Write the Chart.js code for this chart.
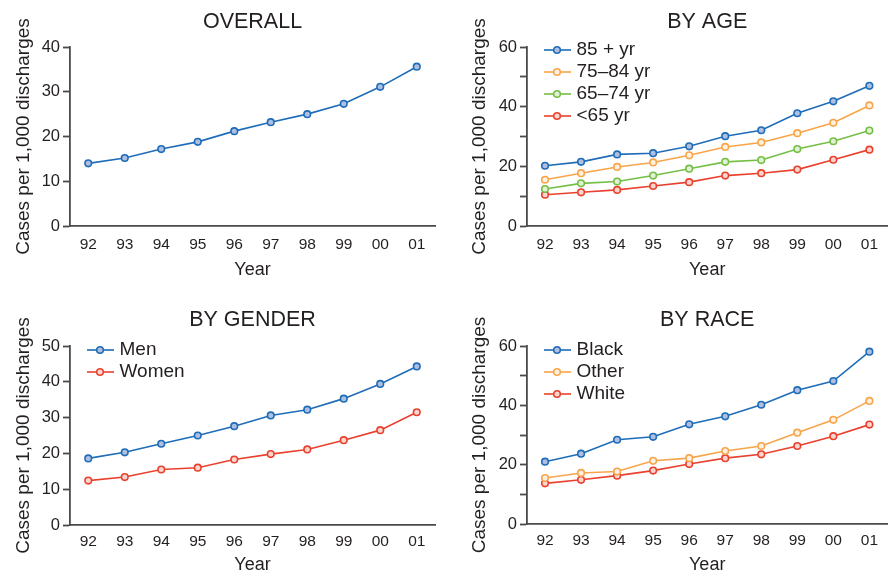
<!DOCTYPE html>
<html>
<head>
<meta charset="utf-8">
<script src="https://cdn.jsdelivr.net/npm/chart.js@4.4.1/dist/chart.umd.min.js"></script>
<style>
  body { margin: 0; background: #fff; }
  .panel { position: absolute; }
</style>
</head>
<body>
<div class="panel" style="left:0;top:0"><canvas id="overall" width="446" height="290"></canvas></div>
<div class="panel" style="left:446px;top:0"><canvas id="byAge" width="447" height="290"></canvas></div>
<div class="panel" style="left:0;top:290px"><canvas id="byGender" width="446" height="286"></canvas></div>
<div class="panel" style="left:446px;top:290px"><canvas id="byRace" width="447" height="286"></canvas></div>
<script>
const years = ['92', '93', '94', '95', '96', '97', '98', '99', '00', '01'];

const overall = [14.0, 15.2, 17.2, 18.8, 21.2, 23.2, 25.0, 27.3, 31.1, 35.6];

const age85plus = [20.2, 21.5, 24.0, 24.4, 26.7, 30.1, 32.1, 37.8, 41.8, 47.0];
const age75to84 = [15.5, 17.7, 19.8, 21.3, 23.7, 26.5, 28.0, 31.1, 34.6, 40.4];
const age65to74 = [12.4, 14.3, 14.9, 16.9, 19.2, 21.5, 22.1, 25.8, 28.4, 32.0];
const ageUnder65 = [10.5, 11.3, 12.1, 13.4, 14.7, 16.9, 17.7, 18.9, 22.2, 25.6];

const men = [18.6, 20.3, 22.7, 25.0, 27.6, 30.6, 32.2, 35.3, 39.4, 44.3];
const women = [12.4, 13.4, 15.5, 16.0, 18.3, 19.8, 21.1, 23.7, 26.5, 31.5];

const black = [21.0, 23.7, 28.4, 29.4, 33.6, 36.3, 40.2, 45.1, 48.2, 58.1];
const other = [15.5, 17.2, 17.7, 21.3, 22.2, 24.6, 26.3, 30.8, 35.1, 41.5];
const white = [13.7, 14.9, 16.3, 18.0, 20.2, 22.2, 23.5, 26.3, 29.6, 33.5];

const BLUE = ['#1f6cb8', '#aebfe2'];
const ORANGE = ['#f8a54a', '#fff1e2'];
const GREEN = ['#74bf46', '#e2f1d6'];
const RED = ['#e9412e', '#fad6cf'];

const TEXT = '#231f20';
const AXIS = '#4a4a4a';
const FONT = "'Liberation Sans', Arial, sans-serif";

// little line+circle swatch for the legend
function swatch(col) {
    const c = document.createElement('canvas');
    c.width = 28; c.height = 12;
    const g = c.getContext('2d');
    g.strokeStyle = col[0];
    g.lineWidth = 1.6;
    g.beginPath(); g.moveTo(0, 6); g.lineTo(28, 6); g.stroke();
    g.beginPath(); g.arc(14, 6, 3.3, 0, Math.PI * 2);
    g.fillStyle = col[1]; g.fill();
    g.lineWidth = 1.6; g.stroke();
    return c;
}

function series(label, values, col) {
    return {
        label: label,
        data: values,
        borderColor: col[0],
        backgroundColor: col[1],
        borderWidth: 1.6,
        pointRadius: 3.3,
        pointBorderWidth: 1.6,
        pointBackgroundColor: col[1],
        pointBorderColor: col[0],
        tension: 0,
        clip: false,
        swatch: swatch(col)
    };
}

function makeChart(id, title, datasets, yMax, yStep, labelStep, box) {
    const canvas = document.getElementById(id);
    const W = canvas.width, H = canvas.height;
    const showLegend = datasets.length > 1;
    return new Chart(canvas, {
        type: 'line',
        data: { labels: years, datasets: datasets },
        options: {
            responsive: false,
            animation: false,
            devicePixelRatio: 1,
            layout: { padding: { left: 0, right: W - box.right, top: 0, bottom: 0 } },
            plugins: {
                tooltip: { enabled: false },
                legend: {
                    display: showLegend,
                    position: 'chartArea',
                    align: 'start',
                    labels: {
                        usePointStyle: true,
                        pointStyleWidth: 20,
                        padding: 3,
                        color: TEXT,
                        font: { family: FONT, size: 19 },
                        generateLabels: function (chart) {
                            return chart.data.datasets.map((ds, i) => ({
                                text: ds.label,
                                fontColor: TEXT,
                                pointStyle: ds.swatch,
                                datasetIndex: i,
                                lineWidth: 0,
                                hidden: false
                            }));
                        }
                    }
                }
            },
            scales: {
                x: {
                    type: 'category',
                    position: 'bottom',
                    offset: true,
                    grid: { display: true, drawOnChartArea: false, drawTicks: false },
                    border: { display: true, color: AXIS, width: 1.8 },
                    ticks: {
                        autoSkip: false, maxRotation: 0, padding: box.xPad,
                        color: TEXT, font: { family: FONT, size: 15.5 }
                    },
                    title: {
                        display: true, text: 'Year', color: TEXT,
                        font: { family: FONT, size: 18 },
                        padding: { top: 0, bottom: box.yearPad }
                    },
                    afterFit: s => { s.height = H - box.bottom; }
                },
                top: {
                    type: 'category',
                    position: 'top',
                    grid: { display: false },
                    border: { display: false },
                    ticks: { display: false },
                    title: {
                        display: true, text: title, color: TEXT,
                        font: { family: FONT, size: 21.5 },
                        padding: { top: box.titlePad, bottom: 0 }
                    },
                    afterFit: s => { s.height = box.top; }
                },
                y: {
                    min: 0,
                    max: yMax,
                    grid: {
                        drawOnChartArea: false, drawTicks: true, tickLength: 7,
                        tickWidth: 1.8, tickColor: AXIS
                    },
                    border: { display: true, color: AXIS, width: 1.8 },
                    ticks: {
                        stepSize: yStep, padding: 3, color: TEXT,
                        font: { family: FONT, size: 16.5 },
                        callback: v => (v % labelStep === 0 ? v : '')
                    },
                    title: {
                        display: true, text: 'Cases per 1,000 discharges', color: TEXT,
                        font: { family: FONT, size: 19 },
                        padding: { top: box.yTitlePad, bottom: 0 }
                    },
                    afterFit: s => { s.width = box.left; }
                }
            }
        },
        plugins: [{
            id: 'legendSpot',
            afterLayout(chart) {
                const l = chart.legend;
                if (!l || !showLegend) return;
                l.left = chart.chartArea.left + 17;
                l.top = chart.chartArea.top + box.legendDy;
                l.right = l.left + 250;
                l.bottom = l.top + 140;
            }
        }]
    });
}

makeChart('overall', 'OVERALL',
    [series('Overall', overall, BLUE)],
    40, 5, 10,
    { left: 70, right: 435, top: 47, bottom: 226, titlePad: 8.8, xPad: 9, yearPad: 9, yTitlePad: 12.6, legendDy: -9.5 });

makeChart('byAge', 'BY AGE',
    [series('85 + yr', age85plus, BLUE),
     series('75\u201384 yr', age75to84, ORANGE),
     series('65\u201374 yr', age65to74, GREEN),
     series('<65 yr', ageUnder65, RED)],
    60, 10, 20,
    { left: 81, right: 447, top: 47, bottom: 226, titlePad: 8.8, xPad: 9, yearPad: 9, yTitlePad: 22.3, legendDy: -9.5 });

makeChart('byGender', 'BY GENDER',
    [series('Men', men, BLUE),
     series('Women', women, RED)],
    50, 5, 10,
    { left: 70, right: 435, top: 56, bottom: 235, titlePad: 17.1, xPad: 7.5, yearPad: 0, yTitlePad: 12.4, legendDy: -8.5 });

makeChart('byRace', 'BY RACE',
    [series('Black', black, BLUE),
     series('Other', other, ORANGE),
     series('White', white, RED)],
    60, 10, 20,
    { left: 81, right: 447, top: 56, bottom: 234, titlePad: 17.1, xPad: 7.5, yearPad: 0, yTitlePad: 22.3, legendDy: -8.5 });
</script>
</body>
</html>
